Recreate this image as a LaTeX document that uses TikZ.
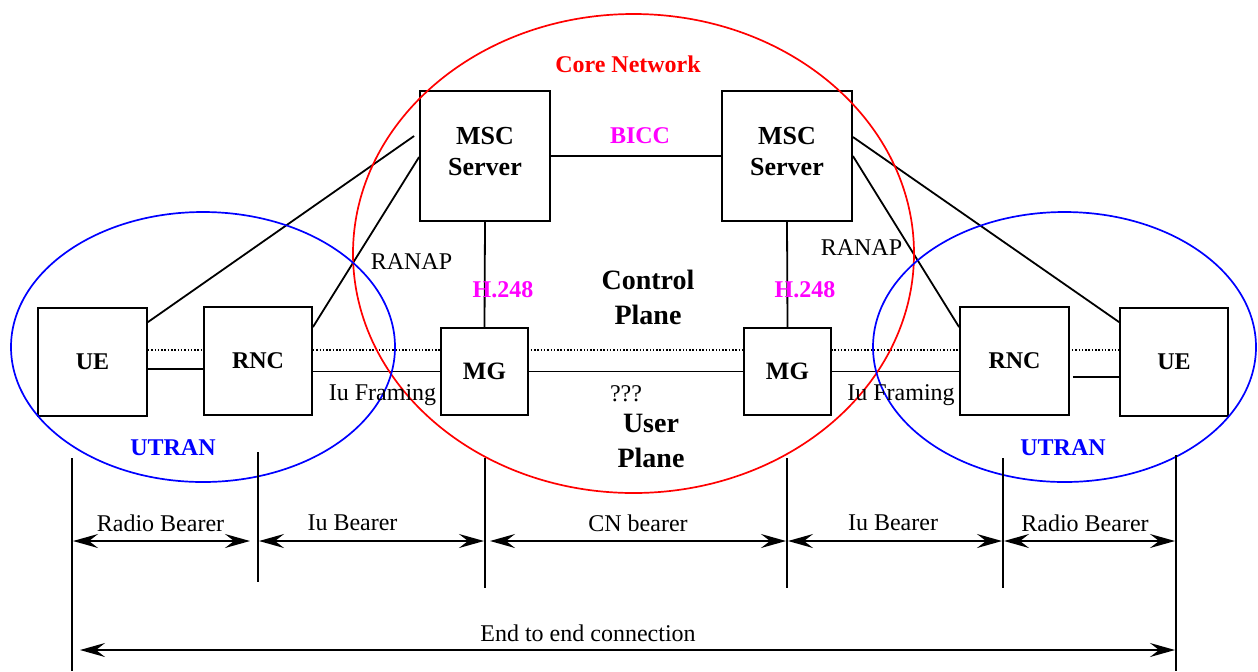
\documentclass[tikz,border=0pt]{standalone}
\usepackage{fontspec}
\setmainfont{Liberation Serif}
\usetikzlibrary{arrows.meta,calc,backgrounds}
\definecolor{cnred}{RGB}{255,0,0}
\definecolor{utblue}{RGB}{0,0,255}
\definecolor{protomag}{RGB}{255,0,255}
\begin{document}
\begin{tikzpicture}[x=0.5pt,y=-0.5pt,
  box/.style={draw, line width=0.9pt, fill=white, inner sep=0pt, font=\fontsize{12}{14}\selectfont\bfseries},
  lbl/.style={inner sep=0pt, font=\fontsize{12}{14}\selectfont},
  blbl/.style={inner sep=0pt, font=\fontsize{12}{14}\selectfont\bfseries},
  mscl/.style={inner sep=0pt, align=center, font=\fontsize{13}{15.5}\selectfont\bfseries},
  plane/.style={inner sep=0pt, align=center, font=\fontsize{14}{17.5}\selectfont\bfseries},
  conn/.style={line width=0.9pt},
  vline/.style={line width=0.9pt},
  bearer/.style={line width=0.9pt, {Stealth[length=12.5pt,width=7pt,inset=4.5pt]}-{Stealth[length=12.5pt,width=7pt,inset=4.5pt]}},
  ring/.style={line width=0.85pt},
]
\useasboundingbox (0,0) rectangle (1258,671);

% boxes
\node[box, minimum width=54.5pt, minimum height=54pt] (ueL) at (92.5,362) {UE};
\node[box, minimum width=54pt, minimum height=54pt] (rncL) at (258,361) {RNC};
\node[box, minimum width=43.5pt, minimum height=43.5pt, font=\fontsize{12.5}{14}\selectfont\bfseries] (mgL) at (484.5,371.5) {MG};
\node[box, minimum width=65pt, minimum height=65pt] (mscL) at (485,156) {};
\node[box, minimum width=65pt, minimum height=65pt] (mscR) at (787,156) {};
\node[box, minimum width=43.5pt, minimum height=43.5pt, font=\fontsize{12.5}{14}\selectfont\bfseries] (mgR) at (787.5,371.5) {MG};
\node[box, minimum width=54.5pt, minimum height=54pt] (rncR) at (1014.5,361) {RNC};
\node[box, minimum width=54pt, minimum height=54pt] (ueR) at (1174,362) {UE};
\node[mscl] (mscLt) at (485,151.5) {MSC\\Server};
\node[mscl] (mscRt) at (787,151.5) {MSC\\Server};

% dotted end-to-end line behind the boxes
\begin{pgfonlayer}{background}
\draw[line width=0.75pt, dash pattern=on 0.75pt off 0.9pt] ($(ueL.east)+(0,-12)$) -- ($(ueR.west)+(0,-12)$);
\end{pgfonlayer}

% connectors
\draw[conn] ($(ueL.north east)+(0,15)$) -- ($(mscL.west)+(-5,-20)$);
\draw[conn] ($(rncL.north east)+(0,21)$) -- ($(mscL.west)+(0,1)$);
\draw[conn] ($(mscR.east)+(0,-19)$) -- ($(ueR.north west)+(0,15)$);
\draw[conn] (mscR.east) -- ($(rncR.north west)+(0,21)$);
\draw[conn] (mscL.east) -- (mscR.west);
\draw[conn] (mscL.south) -- (mgL.north);
\draw[conn] (mscR.south) -- (mgR.north);
\draw[conn] ($(ueL.east)+(0,7)$) -- ($(rncL.west)+(0,8)$);
\draw[conn] (rncL.east |- mgL.west) -- (mgL.west);
\draw[conn] (mgL.east) -- (mgR.west);
\draw[conn] (mgR.east) -- (mgR.east -| rncR.west);
\draw[conn] ($(rncR.east)+(3,16)$) -- ($(ueR.west)+(0,15)$);

% domains
\draw[ring, cnred] (633.5,253.5) ellipse (140.25pt and 119.75pt);
\draw[ring, utblue] (203,347) ellipse (96pt and 67.5pt);
\draw[ring, utblue] (1064.5,347) ellipse (95.75pt and 67.5pt);

% labels
\node[blbl, cnred] (cn) at (628,64) {Core Network};
\node[blbl, protomag] (bicc) at (640,136) {BICC};
\node[blbl, protomag] (h248L) at (503,290) {H.248};
\node[blbl, protomag] (h248R) at (805,290) {H.248};
\node[lbl] (ranapL) at (411.5,262) {RANAP};
\node[lbl] (ranapR) at (861.5,248) {RANAP};
\node[plane] (cp) at (648,297) {Control\\Plane};
\node[plane] (up) at (651,440.5) {User\\Plane};
\node[lbl] (qqq) at (626,394) {???};
\node[lbl] (iufL) at (382.5,395) {Iu Framing};
\node[lbl] (iufR) at (901,395) {Iu Framing};
\node[blbl, utblue] (utL) at (173,448) {UTRAN};
\node[blbl, utblue] (utR) at (1063,448) {UTRAN};

% vertical reference lines
\coordinate (v1t) at (72,458);   \coordinate (v1b) at (72,671);
\coordinate (v2t) at (258,452);  \coordinate (v2b) at (258,582);
\coordinate (v3t) at (485,458);  \coordinate (v3b) at (485,588);
\coordinate (v4t) at (787,458);  \coordinate (v4b) at (787,588);
\coordinate (v5t) at (1003,458); \coordinate (v5b) at (1003,588);
\coordinate (v6t) at (1176,455); \coordinate (v6b) at (1176,671);
\draw[vline] (v1t) -- (v1b);
\draw[vline] (v2t) -- (v2b);
\draw[vline] (v3t) -- (v3b);
\draw[vline] (v4t) -- (v4b);
\draw[vline] (v5t) -- (v5b);
\draw[vline] (v6t) -- (v6b);

% bearer arrows
\coordinate (a1) at (73,541);   \coordinate (a2) at (250,541);
\coordinate (b1) at (259,541);  \coordinate (b2) at (484,541);
\coordinate (c1) at (490,541);  \coordinate (c2) at (786,541);
\coordinate (d1) at (788,541);  \coordinate (d2) at (1002,541);
\coordinate (e1) at (1004,541); \coordinate (e2) at (1175,541);
\coordinate (f1) at (80,650);   \coordinate (f2) at (1175,650);
\draw[bearer] (a1) -- (a2);
\draw[bearer] (b1) -- (b2);
\draw[bearer] (c1) -- (c2);
\draw[bearer] (d1) -- (d2);
\draw[bearer] (e1) -- (e2);
\draw[bearer] (f1) -- (f2);

\node[lbl] (rbL) at (160.5,523) {Radio Bearer};
\node[lbl] (iubL) at (352.5,523) {Iu Bearer};
\node[lbl] (cnb) at (638,523) {CN bearer};
\node[lbl] (iubR) at (893,523) {Iu Bearer};
\node[lbl] (rbR) at (1085,523) {Radio Bearer};
\node[lbl] (e2e) at (588,633) {End to end connection};
\end{tikzpicture}
\end{document}
